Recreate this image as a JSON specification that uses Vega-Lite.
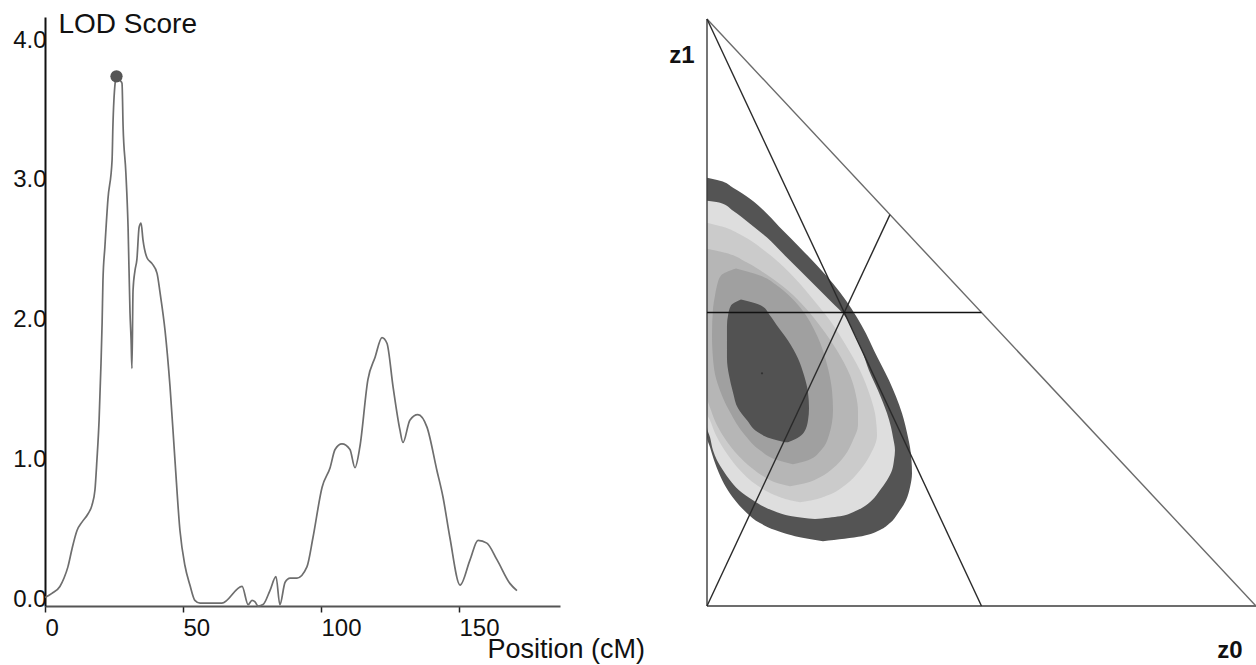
{
  "$schema": "https://vega.github.io/schema/vega-lite/v6.json",
  "width": 1256,
  "height": 665,
  "autosize": {"type": "none"},
  "padding": 0,
  "background": "white",
  "config": {"view": {"stroke": null}, "font": "Liberation Sans", "axis": {"grid": false}},
  "datasets": {
    "lod": [
      {"pos": 0, "lod": 0.06}, {"pos": 2.5, "lod": 0.09}, {"pos": 5.4, "lod": 0.14}, {"pos": 6.9, "lod": 0.2},
      {"pos": 8.3, "lod": 0.28}, {"pos": 9.8, "lod": 0.41}, {"pos": 11.6, "lod": 0.54}, {"pos": 13.4, "lod": 0.6},
      {"pos": 15.6, "lod": 0.66}, {"pos": 17.0, "lod": 0.72}, {"pos": 18.1, "lod": 0.83}, {"pos": 18.8, "lod": 1.04},
      {"pos": 19.6, "lod": 1.33}, {"pos": 20.3, "lod": 1.74}, {"pos": 20.7, "lod": 2.03}, {"pos": 21.0, "lod": 2.33},
      {"pos": 21.7, "lod": 2.57}, {"pos": 22.8, "lod": 2.91}, {"pos": 24.3, "lod": 3.19}, {"pos": 24.6, "lod": 3.43},
      {"pos": 25.4, "lod": 3.74}, {"pos": 25.9, "lod": 3.79}, {"pos": 27.2, "lod": 3.76}, {"pos": 27.9, "lod": 3.74},
      {"pos": 28.3, "lod": 3.43}, {"pos": 29.3, "lod": 3.1}, {"pos": 30.1, "lod": 2.71}, {"pos": 30.8, "lod": 2.1},
      {"pos": 31.2, "lod": 1.9}, {"pos": 31.5, "lod": 1.7}, {"pos": 31.9, "lod": 2.26}, {"pos": 32.6, "lod": 2.4},
      {"pos": 33.3, "lod": 2.48}, {"pos": 34.1, "lod": 2.71}, {"pos": 34.8, "lod": 2.74}, {"pos": 35.5, "lod": 2.62},
      {"pos": 37.0, "lod": 2.49}, {"pos": 38.8, "lod": 2.45}, {"pos": 40.6, "lod": 2.38}, {"pos": 41.7, "lod": 2.24},
      {"pos": 43.5, "lod": 1.97}, {"pos": 45.3, "lod": 1.57}, {"pos": 47.1, "lod": 1.04}, {"pos": 48.9, "lod": 0.54},
      {"pos": 50.7, "lod": 0.29}, {"pos": 52.5, "lod": 0.15}, {"pos": 54.3, "lod": 0.04}, {"pos": 56.2, "lod": 0.02},
      {"pos": 64.1, "lod": 0.02}, {"pos": 71.4, "lod": 0.14}, {"pos": 73.6, "lod": 0.01}, {"pos": 75.0, "lod": 0.04},
      {"pos": 76.1, "lod": 0.03}, {"pos": 77.2, "lod": 0.0}, {"pos": 79.0, "lod": 0.01}, {"pos": 81.5, "lod": 0.11},
      {"pos": 83.7, "lod": 0.21}, {"pos": 85.1, "lod": 0.01}, {"pos": 87.0, "lod": 0.17}, {"pos": 88.8, "lod": 0.2},
      {"pos": 91.3, "lod": 0.2}, {"pos": 94.9, "lod": 0.28}, {"pos": 97.1, "lod": 0.49}, {"pos": 100.4, "lod": 0.85},
      {"pos": 103.3, "lod": 0.99}, {"pos": 105.1, "lod": 1.12}, {"pos": 107.6, "lod": 1.16}, {"pos": 110.5, "lod": 1.12},
      {"pos": 112.3, "lod": 0.99}, {"pos": 114.1, "lod": 1.14}, {"pos": 117.0, "lod": 1.62}, {"pos": 119.6, "lod": 1.78},
      {"pos": 122.1, "lod": 1.92}, {"pos": 123.9, "lod": 1.88}, {"pos": 126.1, "lod": 1.57}, {"pos": 128.6, "lod": 1.26},
      {"pos": 129.7, "lod": 1.17}, {"pos": 132.2, "lod": 1.33}, {"pos": 135.1, "lod": 1.37}, {"pos": 138.4, "lod": 1.28},
      {"pos": 142.0, "lod": 0.97}, {"pos": 144.2, "lod": 0.78}, {"pos": 146.7, "lod": 0.49}, {"pos": 150.4, "lod": 0.15},
      {"pos": 154.0, "lod": 0.33}, {"pos": 156.9, "lod": 0.47}, {"pos": 160.1, "lod": 0.45}, {"pos": 163.8, "lod": 0.33},
      {"pos": 168.5, "lod": 0.16}, {"pos": 171.0, "lod": 0.11}
    ],
    "peak": [{"pos": 25.9, "lod": 3.79}],
    "bands": [
      {"band": "b1", "z1": 0.7296, "lo": 0, "hi": 0},
      {"band": "b1", "z1": 0.7245, "lo": 0, "hi": 0.0237},
      {"band": "b1", "z1": 0.7126, "lo": 0, "hi": 0.0474},
      {"band": "b1", "z1": 0.6939, "lo": 0, "hi": 0.0783},
      {"band": "b1", "z1": 0.6684, "lo": 0, "hi": 0.1093},
      {"band": "b1", "z1": 0.6395, "lo": 0, "hi": 0.1384},
      {"band": "b1", "z1": 0.6105, "lo": 0, "hi": 0.1694},
      {"band": "b1", "z1": 0.5799, "lo": 0, "hi": 0.2004},
      {"band": "b1", "z1": 0.5493, "lo": 0, "hi": 0.2295},
      {"band": "b1", "z1": 0.5204, "lo": 0, "hi": 0.2532},
      {"band": "b1", "z1": 0.4915, "lo": 0, "hi": 0.2732},
      {"band": "b1", "z1": 0.4643, "lo": 0, "hi": 0.2896},
      {"band": "b1", "z1": 0.4354, "lo": 0, "hi": 0.3042},
      {"band": "b1", "z1": 0.3844, "lo": 0, "hi": 0.3315},
      {"band": "b1", "z1": 0.3282, "lo": 0, "hi": 0.3552},
      {"band": "b1", "z1": 0.2874, "lo": 0, "hi": 0.3661},
      {"band": "b1", "z1": 0.2704, "lo": 0.0055, "hi": 0.3698},
      {"band": "b1", "z1": 0.2483, "lo": 0.0128, "hi": 0.3725},
      {"band": "b1", "z1": 0.2262, "lo": 0.0219, "hi": 0.3734},
      {"band": "b1", "z1": 0.2024, "lo": 0.0346, "hi": 0.3698},
      {"band": "b1", "z1": 0.1803, "lo": 0.051, "hi": 0.3625},
      {"band": "b1", "z1": 0.1582, "lo": 0.0729, "hi": 0.3479},
      {"band": "b1", "z1": 0.1412, "lo": 0.0965, "hi": 0.3333},
      {"band": "b1", "z1": 0.1293, "lo": 0.1239, "hi": 0.3151},
      {"band": "b1", "z1": 0.119, "lo": 0.1603, "hi": 0.2823},
      {"band": "b1", "z1": 0.1105, "lo": 0.2113, "hi": 0.2113},
      {"band": "b2", "z1": 0.6905, "lo": 0, "hi": 0},
      {"band": "b2", "z1": 0.6871, "lo": 0, "hi": 0.0237},
      {"band": "b2", "z1": 0.6735, "lo": 0, "hi": 0.0474},
      {"band": "b2", "z1": 0.6514, "lo": 0, "hi": 0.0783},
      {"band": "b2", "z1": 0.6276, "lo": 0, "hi": 0.1093},
      {"band": "b2", "z1": 0.6003, "lo": 0, "hi": 0.1384},
      {"band": "b2", "z1": 0.5714, "lo": 0, "hi": 0.1694},
      {"band": "b2", "z1": 0.5425, "lo": 0, "hi": 0.2004},
      {"band": "b2", "z1": 0.5153, "lo": 0, "hi": 0.2295},
      {"band": "b2", "z1": 0.4983, "lo": 0, "hi": 0.2477},
      {"band": "b2", "z1": 0.4694, "lo": 0, "hi": 0.2659},
      {"band": "b2", "z1": 0.4354, "lo": 0, "hi": 0.2823},
      {"band": "b2", "z1": 0.4014, "lo": 0, "hi": 0.2951},
      {"band": "b2", "z1": 0.3673, "lo": 0, "hi": 0.3115},
      {"band": "b2", "z1": 0.3282, "lo": 0, "hi": 0.3279},
      {"band": "b2", "z1": 0.3044, "lo": 0, "hi": 0.3352},
      {"band": "b2", "z1": 0.2874, "lo": 0.0055, "hi": 0.3388},
      {"band": "b2", "z1": 0.2653, "lo": 0.0109, "hi": 0.3424},
      {"band": "b2", "z1": 0.2483, "lo": 0.0182, "hi": 0.3406},
      {"band": "b2", "z1": 0.2313, "lo": 0.0291, "hi": 0.337},
      {"band": "b2", "z1": 0.2143, "lo": 0.0419, "hi": 0.3279},
      {"band": "b2", "z1": 0.1973, "lo": 0.0583, "hi": 0.3151},
      {"band": "b2", "z1": 0.1803, "lo": 0.0838, "hi": 0.3005},
      {"band": "b2", "z1": 0.1684, "lo": 0.1056, "hi": 0.2842},
      {"band": "b2", "z1": 0.1599, "lo": 0.1275, "hi": 0.2659},
      {"band": "b2", "z1": 0.1531, "lo": 0.1548, "hi": 0.2423},
      {"band": "b2", "z1": 0.148, "lo": 0.1967, "hi": 0.1967},
      {"band": "b3", "z1": 0.6531, "lo": 0, "hi": 0},
      {"band": "b3", "z1": 0.6463, "lo": 0, "hi": 0.0273},
      {"band": "b3", "z1": 0.631, "lo": 0, "hi": 0.0638},
      {"band": "b3", "z1": 0.6088, "lo": 0, "hi": 0.1002},
      {"band": "b3", "z1": 0.5833, "lo": 0, "hi": 0.133},
      {"band": "b3", "z1": 0.5544, "lo": 0, "hi": 0.1639},
      {"band": "b3", "z1": 0.5204, "lo": 0, "hi": 0.1949},
      {"band": "b3", "z1": 0.4864, "lo": 0, "hi": 0.224},
      {"band": "b3", "z1": 0.4439, "lo": 0, "hi": 0.2532},
      {"band": "b3", "z1": 0.4014, "lo": 0, "hi": 0.2787},
      {"band": "b3", "z1": 0.3588, "lo": 0, "hi": 0.2969},
      {"band": "b3", "z1": 0.3282, "lo": 0, "hi": 0.306},
      {"band": "b3", "z1": 0.3163, "lo": 0.0055, "hi": 0.3078},
      {"band": "b3", "z1": 0.2908, "lo": 0.0164, "hi": 0.3097},
      {"band": "b3", "z1": 0.2568, "lo": 0.0383, "hi": 0.2969},
      {"band": "b3", "z1": 0.2313, "lo": 0.0601, "hi": 0.2787},
      {"band": "b3", "z1": 0.2058, "lo": 0.0911, "hi": 0.2514},
      {"band": "b3", "z1": 0.1888, "lo": 0.1239, "hi": 0.2204},
      {"band": "b3", "z1": 0.1803, "lo": 0.1512, "hi": 0.1913},
      {"band": "b3", "z1": 0.1769, "lo": 0.1694, "hi": 0.1694},
      {"band": "b4", "z1": 0.6088, "lo": 0, "hi": 0},
      {"band": "b4", "z1": 0.602, "lo": 0, "hi": 0.0328},
      {"band": "b4", "z1": 0.585, "lo": 0, "hi": 0.0729},
      {"band": "b4", "z1": 0.5629, "lo": 0, "hi": 0.1111},
      {"band": "b4", "z1": 0.5374, "lo": 0, "hi": 0.1475},
      {"band": "b4", "z1": 0.5068, "lo": 0, "hi": 0.1803},
      {"band": "b4", "z1": 0.4728, "lo": 0, "hi": 0.2095},
      {"band": "b4", "z1": 0.4354, "lo": 0, "hi": 0.2368},
      {"band": "b4", "z1": 0.3929, "lo": 0, "hi": 0.2605},
      {"band": "b4", "z1": 0.3588, "lo": 0, "hi": 0.2714},
      {"band": "b4", "z1": 0.3333, "lo": 0.0073, "hi": 0.275},
      {"band": "b4", "z1": 0.3078, "lo": 0.0182, "hi": 0.275},
      {"band": "b4", "z1": 0.2823, "lo": 0.0346, "hi": 0.2659},
      {"band": "b4", "z1": 0.2568, "lo": 0.0565, "hi": 0.2514},
      {"band": "b4", "z1": 0.2347, "lo": 0.082, "hi": 0.2295},
      {"band": "b4", "z1": 0.2194, "lo": 0.1056, "hi": 0.2058},
      {"band": "b4", "z1": 0.2092, "lo": 0.1293, "hi": 0.1785},
      {"band": "b4", "z1": 0.2041, "lo": 0.1512, "hi": 0.1512},
      {"band": "b5", "z1": 0.5748, "lo": 0.0528, "hi": 0.0528},
      {"band": "b5", "z1": 0.5629, "lo": 0.0255, "hi": 0.0965},
      {"band": "b5", "z1": 0.5459, "lo": 0.0182, "hi": 0.1275},
      {"band": "b5", "z1": 0.5289, "lo": 0.0146, "hi": 0.1494},
      {"band": "b5", "z1": 0.5068, "lo": 0.0109, "hi": 0.1712},
      {"band": "b5", "z1": 0.4609, "lo": 0.0091, "hi": 0.2004},
      {"band": "b5", "z1": 0.4048, "lo": 0.0128, "hi": 0.2204},
      {"band": "b5", "z1": 0.3673, "lo": 0.0237, "hi": 0.2277},
      {"band": "b5", "z1": 0.3333, "lo": 0.0401, "hi": 0.2295},
      {"band": "b5", "z1": 0.2908, "lo": 0.0692, "hi": 0.2222},
      {"band": "b5", "z1": 0.2653, "lo": 0.0965, "hi": 0.2077},
      {"band": "b5", "z1": 0.2483, "lo": 0.1293, "hi": 0.184},
      {"band": "b5", "z1": 0.2415, "lo": 0.1566, "hi": 0.1566},
      {"band": "b6", "z1": 0.5221, "lo": 0.0619, "hi": 0.0619},
      {"band": "b6", "z1": 0.5119, "lo": 0.0437, "hi": 0.0984},
      {"band": "b6", "z1": 0.4949, "lo": 0.0383, "hi": 0.1148},
      {"band": "b6", "z1": 0.4779, "lo": 0.0364, "hi": 0.1275},
      {"band": "b6", "z1": 0.4524, "lo": 0.0364, "hi": 0.1475},
      {"band": "b6", "z1": 0.4218, "lo": 0.0364, "hi": 0.1658},
      {"band": "b6", "z1": 0.3929, "lo": 0.0401, "hi": 0.1767},
      {"band": "b6", "z1": 0.3639, "lo": 0.0474, "hi": 0.184},
      {"band": "b6", "z1": 0.3367, "lo": 0.0565, "hi": 0.1858},
      {"band": "b6", "z1": 0.3163, "lo": 0.0729, "hi": 0.184},
      {"band": "b6", "z1": 0.2959, "lo": 0.0929, "hi": 0.1767},
      {"band": "b6", "z1": 0.2857, "lo": 0.1148, "hi": 0.1639},
      {"band": "b6", "z1": 0.2789, "lo": 0.1421, "hi": 0.1475}
    ],
    "tri": [
      {"kind": "frame", "z0a": 0, "z1a": 0, "z0b": 0, "z1b": 1},
      {"kind": "frame", "z0a": 0, "z1a": 0, "z0b": 1, "z1b": 0},
      {"kind": "hyp", "z0a": 0, "z1a": 1, "z0b": 1, "z1b": 0},
      {"kind": "inner", "z0a": 0, "z1a": 1, "z0b": 0.5, "z1b": 0},
      {"kind": "inner", "z0a": 0, "z1a": 0, "z0b": 0.3333, "z1b": 0.6667},
      {"kind": "mid", "z0a": 0, "z1a": 0.5, "z0b": 0.5, "z1b": 0.5}
    ],
    "labels": [
      {"label": "z1", "tx": -0.0455, "ty": 0.9252},
      {"label": "z0", "tx": 0.9526, "ty": -0.0884}
    ],
    "center": [{"cx": 0.1002, "cy": 0.3963}]
  },
  "layer": [
    {
      "layer": [
        {
          "data": {"name": "lod"},
          "mark": {"type": "line", "color": "#6e6e6e", "strokeWidth": 1.7, "interpolate": "monotone"},
          "encoding": {
            "x": {"field": "pos", "type": "quantitative",
              "scale": {"domain": [0, 186.6], "range": [45, 560], "nice": false, "zero": false},
              "axis": {"title": "Position (cM)", "values": [0, 50, 100, 150], "format": "d", "orient": "bottom", "offset": -59,
                "domainColor": "#555555", "domainWidth": 2, "ticks": true, "tickColor": "#222222", "tickSize": 6, "tickWidth": 1.5,
                "labelAlign": "left", "labelBaseline": "alphabetic", "labelPadding": 23, "labelFontSize": 24, "labelColor": "#111111",
                "labelFlush": false, "labelOverlap": false, "labelFont": "Liberation Sans",
                "titleFont": "Liberation Sans", "titleFontSize": 27, "titleFontWeight": "normal", "titleColor": "#111111",
                "titleAlign": "left", "titleAnchor": "start", "titleBaseline": "alphabetic", "titleX": 487, "titleY": 51, "grid": false}},
            "y": {"field": "lod", "type": "quantitative",
              "scale": {"domain": [0, 4.2147], "range": [606, 17], "nice": false, "zero": false},
              "axis": {"title": "LOD Score", "values": [0, 1, 2, 3, 4], "format": ".1f", "orient": "left", "offset": -45,
                "domainColor": "#111111", "domainWidth": 2, "ticks": false, "tickSize": 0,
                "labelAlign": "right", "labelBaseline": "alphabetic", "labelPadding": -1, "labelFontSize": 24, "labelColor": "#111111",
                "labelFlush": false, "labelOverlap": false, "labelFont": "Liberation Sans",
                "titleFont": "Liberation Sans", "titleFontSize": 28, "titleFontWeight": "normal", "titleColor": "#111111",
                "titleAngle": 0, "titleAlign": "left", "titleAnchor": "start", "titleBaseline": "alphabetic", "titleX": 13, "titleY": 32, "grid": false}}
          }
        },
        {
          "data": {"name": "peak"},
          "mark": {"type": "point", "filled": true, "color": "#555555", "opacity": 1, "size": 150},
          "encoding": {
            "x": {"field": "pos", "type": "quantitative"},
            "y": {"field": "lod", "type": "quantitative"}
          }
        }
      ]
    },
    {
      "layer": [
        {
          "data": {"name": "bands"},
          "transform": [{"filter": "datum.band === 'b1'"}],
          "mark": {"type": "area", "orient": "horizontal", "interpolate": "monotone"},
          "encoding": {
            "y": {"field": "z1", "type": "quantitative", "scale": {"domain": [0, 1], "range": [606, 19], "nice": false, "zero": false}, "axis": null},
            "x": {"field": "lo", "type": "quantitative", "scale": {"domain": [0, 1], "range": [707, 1256], "nice": false, "zero": false}, "axis": null},
            "x2": {"field": "hi"},
            "color": {"field": "band", "type": "nominal", "scale": {"domain": ["b1", "b2", "b3", "b4", "b5", "b6"], "range": ["#545454", "#dedede", "#cbcbcb", "#b6b6b6", "#a0a0a0", "#525252"]}, "legend": null}
          }
        },
        {
          "data": {"name": "bands"},
          "transform": [{"filter": "datum.band === 'b2'"}],
          "mark": {"type": "area", "orient": "horizontal", "interpolate": "monotone"},
          "encoding": {
            "y": {"field": "z1", "type": "quantitative", "axis": null},
            "x": {"field": "lo", "type": "quantitative", "axis": null},
            "x2": {"field": "hi"},
            "color": {"field": "band", "type": "nominal", "legend": null}
          }
        },
        {
          "data": {"name": "bands"},
          "transform": [{"filter": "datum.band === 'b3'"}],
          "mark": {"type": "area", "orient": "horizontal", "interpolate": "monotone"},
          "encoding": {
            "y": {"field": "z1", "type": "quantitative", "axis": null},
            "x": {"field": "lo", "type": "quantitative", "axis": null},
            "x2": {"field": "hi"},
            "color": {"field": "band", "type": "nominal", "legend": null}
          }
        },
        {
          "data": {"name": "bands"},
          "transform": [{"filter": "datum.band === 'b4'"}],
          "mark": {"type": "area", "orient": "horizontal", "interpolate": "monotone"},
          "encoding": {
            "y": {"field": "z1", "type": "quantitative", "axis": null},
            "x": {"field": "lo", "type": "quantitative", "axis": null},
            "x2": {"field": "hi"},
            "color": {"field": "band", "type": "nominal", "legend": null}
          }
        },
        {
          "data": {"name": "bands"},
          "transform": [{"filter": "datum.band === 'b5'"}],
          "mark": {"type": "area", "orient": "horizontal", "interpolate": "monotone"},
          "encoding": {
            "y": {"field": "z1", "type": "quantitative", "axis": null},
            "x": {"field": "lo", "type": "quantitative", "axis": null},
            "x2": {"field": "hi"},
            "color": {"field": "band", "type": "nominal", "legend": null}
          }
        },
        {
          "data": {"name": "bands"},
          "transform": [{"filter": "datum.band === 'b6'"}],
          "mark": {"type": "area", "orient": "horizontal", "interpolate": "monotone"},
          "encoding": {
            "y": {"field": "z1", "type": "quantitative", "axis": null},
            "x": {"field": "lo", "type": "quantitative", "axis": null},
            "x2": {"field": "hi"},
            "color": {"field": "band", "type": "nominal", "legend": null}
          }
        },
        {
          "data": {"name": "center"},
          "mark": {"type": "point", "filled": true, "color": "#333333", "opacity": 1, "size": 5},
          "encoding": {
            "x": {"field": "cx", "type": "quantitative", "axis": null},
            "y": {"field": "cy", "type": "quantitative", "axis": null}
          }
        },
        {
          "data": {"name": "tri"},
          "mark": {"type": "rule", "strokeWidth": 1.4},
          "encoding": {
            "x": {"field": "z0a", "type": "quantitative", "axis": null},
            "y": {"field": "z1a", "type": "quantitative", "axis": null},
            "x2": {"field": "z0b"},
            "y2": {"field": "z1b"},
            "stroke": {"field": "kind", "type": "nominal", "scale": {"domain": ["frame", "hyp", "inner", "mid"], "range": ["#3c3c3c", "#6a6a6a", "#2a2a2a", "#111111"]}, "legend": null}
          }
        },
        {
          "data": {"name": "labels"},
          "mark": {"type": "text", "font": "Liberation Sans", "fontSize": 24, "fontWeight": "bold", "align": "center", "baseline": "alphabetic", "color": "#111111"},
          "encoding": {
            "x": {"field": "tx", "type": "quantitative", "axis": null},
            "y": {"field": "ty", "type": "quantitative", "axis": null},
            "text": {"field": "label", "type": "nominal"}
          }
        }
      ]
    }
  ],
  "resolve": {"scale": {"x": "independent", "y": "independent"}, "axis": {"x": "independent", "y": "independent"}}
}
